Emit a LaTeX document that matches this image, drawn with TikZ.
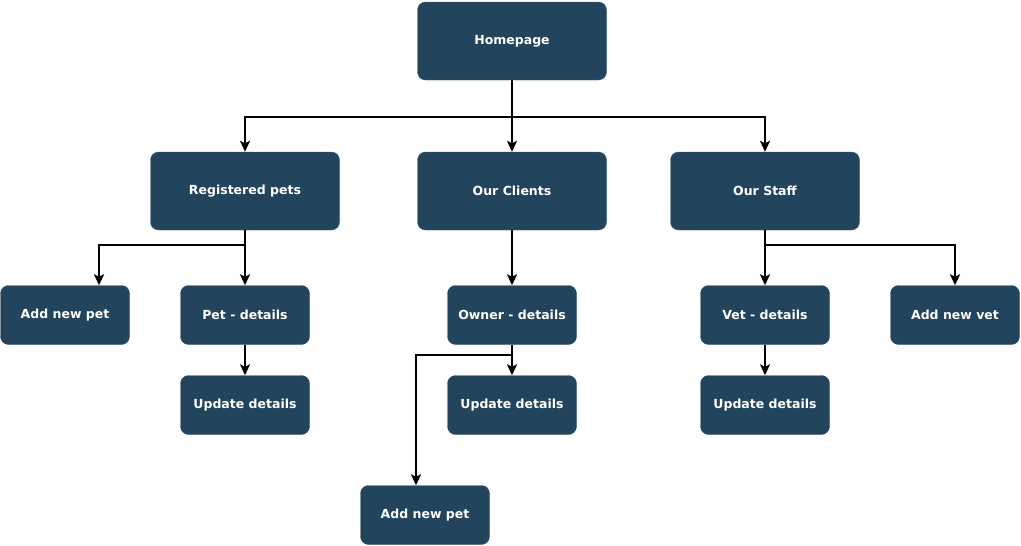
\documentclass[tikz,border=0pt]{standalone}
\usepackage{fontspec}
\setmainfont{DejaVu Sans}
\usetikzlibrary{arrows.meta}
\definecolor{boxblue}{HTML}{23445D}
\tikzset{
  page/.style = {rectangle, rounded corners=8pt, draw=boxblue!85!white,
    fill=boxblue, text=white, font=\bfseries\fontsize{12.5}{15}\selectfont,
    align=center, inner sep=0pt},
  bigpage/.style = {page, minimum width=189pt, minimum height=78pt},
  smallpage/.style = {page, minimum width=129pt, minimum height=59pt},
  link/.style = {->, line width=1.8pt, black}}
\begin{document}
\begin{tikzpicture}[x=1pt,y=-1pt,>={Stealth[length=11pt,width=10pt,inset=2.5pt]}]
\useasboundingbox (0,0) rectangle (1021,546);

% top level
\node [bigpage] (home) at (512,41) {Homepage};

% sections
\node [bigpage] (pets)    at (245,191) {Registered pets};
\node [bigpage] (clients) at (512,191) {Our Clients};
\node [bigpage] (staff)   at (765,191) {Our Staff};

% pages
\node [smallpage] (addpet)  at (65,315)  {Add new pet};
\node [smallpage] (petdet)  at (245,315) {Pet - details};
\node [smallpage] (petupd)  at (245,405) {Update details};
\node [smallpage] (owner)   at (512,315) {Owner - details};
\node [smallpage] (ownupd)  at (512,405) {Update details};
\node [smallpage] (ownpet)  at (425,515) {Add new pet};
\node [smallpage] (vetdet)  at (765,315) {Vet - details};
\node [smallpage] (vetupd)  at (765,405) {Update details};
\node [smallpage] (addvet)  at (955,315) {Add new vet};

\draw [link] (home) -- (clients);
\draw [link] (home.south) -- ++(0,37) -| (pets.north);
\draw [link] (home.south) -- ++(0,37) -| (staff.north);

\draw [link] (pets) -- (petdet);
\draw [link] (pets.south) -- ++(0,15) -| ([xshift=34pt]addpet.north);
\draw [link] (petdet) -- (petupd);

\draw [link] (clients) -- (owner);
\draw [link] (owner) -- (ownupd);
\draw [link] (owner.south) -- ++(0,10) -| ([xshift=-9pt]ownpet.north);

\draw [link] (staff) -- (vetdet);
\draw [link] (staff.south) -- ++(0,15) -| (addvet.north);
\draw [link] (vetdet) -- (vetupd);
\end{tikzpicture}
\end{document}
